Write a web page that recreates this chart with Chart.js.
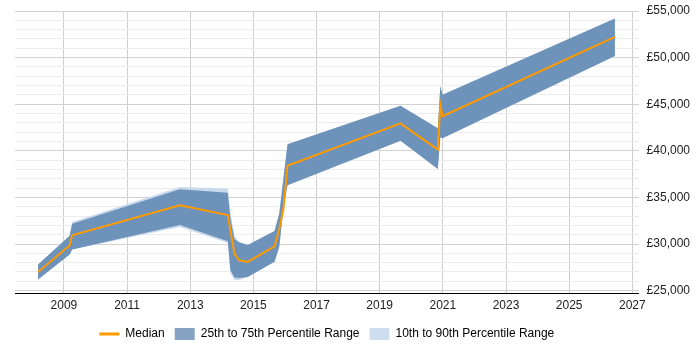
<!DOCTYPE html>
<html>
<head>
<meta charset="utf-8">
<script src="https://cdn.jsdelivr.net/npm/chart.js@4/dist/chart.umd.min.js"></script>
<style>
  body { margin: 0; background: #fff; }
  #wrap { width: 700px; height: 350px; }
</style>
</head>
<body>
<div id="wrap"><canvas id="SalaryChart" width="700" height="350"></canvas></div>
<script>
// years where the series change direction
const years = [2008.18, 2009.18, 2009.26, 2012.67, 2014.19, 2014.27, 2014.4, 2014.55, 2014.82,
               2015.67, 2015.82, 2015.95, 2016.08, 2019.66, 2020.84, 2020.92, 2020.99, 2026.45];
const median = [27000, 29850, 30930, 34160, 33100, 31500, 28950, 28250, 28080,
                29750, 31650, 33750, 38400, 42950, 40120, 44940, 43710, 52220];
const p75 = [27800, 30900, 32180, 35880, 35500, 32800, 30500, 30200, 29900,
             31400, 33300, 37000, 40700, 44830, 42410, 46940, 46010, 54200];
const p25 = [26190, 28880, 29420, 32040, 30300, 27200, 26400, 26350, 26450,
             28100, 29700, 33800, 36300, 41090, 38040, 41450, 41350, 50170];
const p90 = [27800, 30900, 32350, 36130, 35950, 33500, 30900, 30200, 29900,
             31400, 33300, 37000, 40700, 44830, 42410, 46940, 46010, 54200];
const p10 = [26190, 28880, 29420, 31820, 30100, 26900, 26150, 26150, 26450,
             28100, 29700, 33800, 36300, 41090, 38040, 41450, 41350, 50170];

const xTicks = [2009, 2011, 2013, 2015, 2017, 2019, 2021, 2023, 2025, 2027];
const yTicks = [];
for (let v = 25000; v <= 55000; v += 1000) yTicks.push(v);

const legendNames = ['Median', '25th to 75th Percentile Range', '10th to 90th Percentile Range'];

const orange = '#ff9900';
const darkBand = '#6d93bb';
const lightBand = '#c9daec';

function points(values) {
    return years.map((yr, i) => ({ x: yr, y: values[i] }));
}

const context = document.getElementById('SalaryChart').getContext('2d');
new Chart(context, {
    type: 'line',
    data: {
        datasets: [
            { label: legendNames[0], data: points(median), borderColor: orange, borderWidth: 2, fill: false },
            { label: legendNames[1], data: points(p75), borderWidth: 0, backgroundColor: darkBand, fill: '+1' },
            { label: 'p25', data: points(p25), borderWidth: 0, fill: false },
            { label: legendNames[2], data: points(p90), borderWidth: 0, backgroundColor: lightBand, fill: '+1' },
            { label: 'p10', data: points(p10), borderWidth: 0, fill: false }
        ]
    },
    options: {
        responsive: false,
        animation: false,
        elements: { point: { radius: 0 }, line: { tension: 0 } },
        layout: { padding: { left: 15, right: 2, top: 11, bottom: 0 } },
        plugins: {
            tooltip: { enabled: false },
            legend: {
                position: 'bottom',
                fullSize: false,
                labels: {
                    font: { family: 'Liberation Sans, Arial', size: 12 },
                    color: '#222',
                    boxWidth: 20,
                    boxHeight: 12,
                    padding: 10,
                    usePointStyle: true,
                    pointStyleWidth: 20,
                    generateLabels: () => [
                        { text: legendNames[0], pointStyle: 'line', strokeStyle: orange, fillStyle: orange, lineWidth: 3, datasetIndex: 0 },
                        { text: legendNames[1], pointStyle: 'rect', strokeStyle: darkBand, fillStyle: '#86a3c3', lineWidth: 0, datasetIndex: 1 },
                        { text: legendNames[2], pointStyle: 'rect', strokeStyle: lightBand, fillStyle: '#cfdeee', lineWidth: 0, datasetIndex: 3 }
                    ]
                }
            }
        },
        scales: {
            x: {
                type: 'linear',
                min: 2007.45,
                max: 2027.2,
                afterBuildTicks: scale => { scale.ticks = xTicks.map(v => ({ value: v })); },
                border: { color: '#000', width: 1 },
                grid: { color: '#cfcfcf', drawTicks: false },
                ticks: {
                    padding: 5,
                    autoSkip: false,
                    maxRotation: 0,
                    color: '#222',
                    font: { family: 'Liberation Sans, Arial', size: 12 },
                    callback: value => String(value)
                }
            },
            y: {
                position: 'right',
                min: 24680,
                max: 55000,
                afterBuildTicks: scale => { scale.ticks = yTicks.map(v => ({ value: v })); },
                afterFit: scale => { scale.paddingTop = 0; },
                border: { display: false },
                grid: {
                    drawTicks: false,
                    color: c => (c.tick && c.tick.value % 5000 === 0) ? '#d2d2d2' : '#ececec'
                },
                ticks: {
                    padding: 8,
                    autoSkip: false,
                    color: '#222',
                    font: { family: 'Liberation Sans, Arial', size: 12 },
                    callback: value => value % 5000 === 0 ? '£' + value.toLocaleString('en-GB') : ''
                }
            }
        }
    }
});
</script>
</body>
</html>
